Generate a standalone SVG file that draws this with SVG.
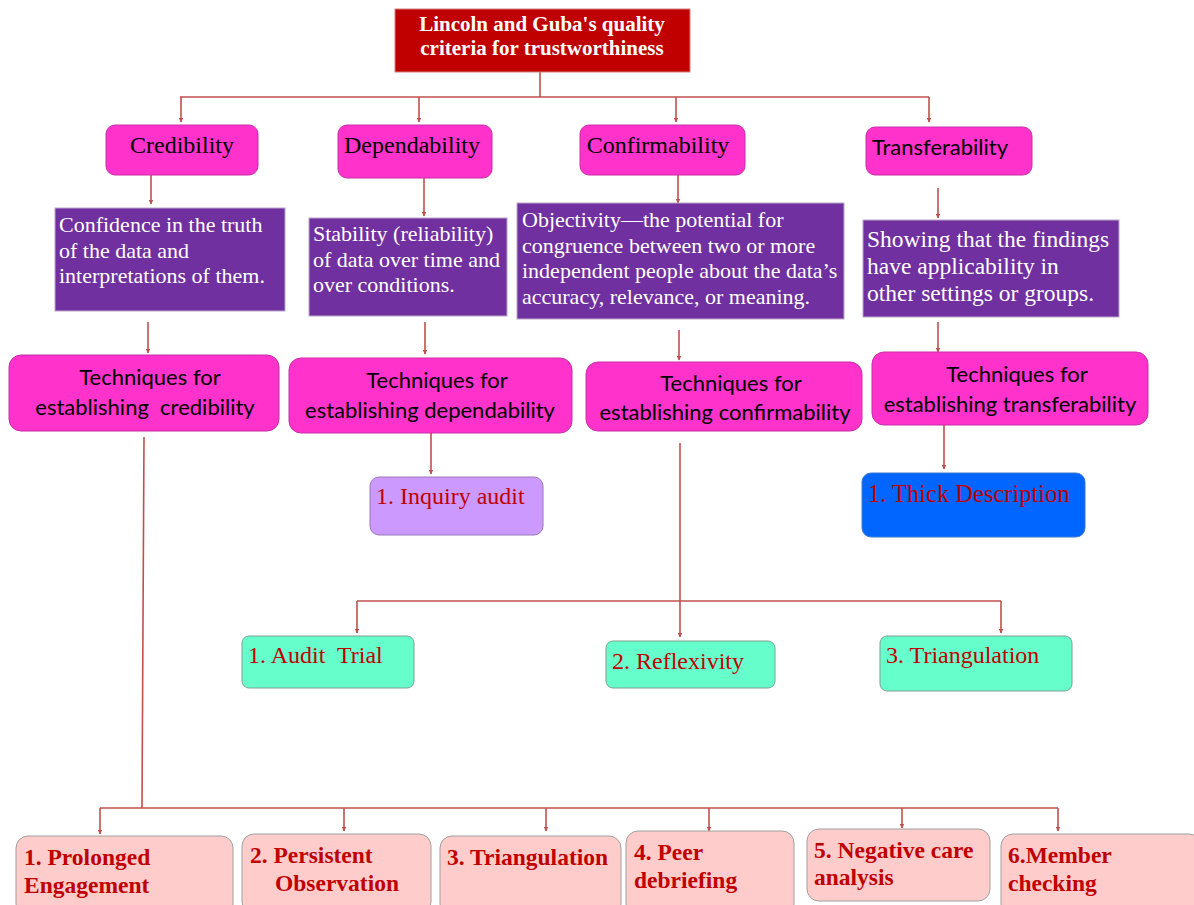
<svg xmlns="http://www.w3.org/2000/svg" width="1194" height="905" viewBox="0 0 1194 905">
<defs>
<marker id="arr" viewBox="0 0 10 10" refX="9" refY="5" markerWidth="5" markerHeight="5" orient="auto" markerUnits="userSpaceOnUse">
<path d="M0,0 L10,5 L0,10 z" fill="#c0504d"/>
</marker>
<style>
.ln{fill:none;stroke:#c0504d;stroke-width:1.6}
.ar{fill:none;stroke:#c0504d;stroke-width:1.6;marker-end:url(#arr)}
.pink{fill:#ff33cc;stroke:#c72fa6;stroke-width:1}
.purple{fill:#7030a0;stroke:#b9a6c9;stroke-width:1}
.green{fill:#66ffcc;stroke:#7f9f90;stroke-width:1}
.rose{fill:#ffcccc;stroke:#a0a0a0;stroke-width:1}
.serif{font-family:"Liberation Serif","Times New Roman",serif}
.sans{font-family:Lato,"Open Sans","Liberation Sans",sans-serif}
.hdr{font-size:24px;fill:#000}
.desc{font-size:22px;fill:#fff}
.tech{font-size:22px;fill:#000}
.red{fill:#c00000}
.bold{font-weight:bold}
</style>
</defs>
<rect width="1194" height="905" fill="#fff"/>

<g id="connectors">
<path class="ln" d="M540,72 V97 M180,97 H929"/>
<path class="ar" d="M181,97 V122"/>
<path class="ar" d="M419,97 V122"/>
<path class="ar" d="M676,97 V122"/>
<path class="ar" d="M929,97 V122"/>
<path class="ar" d="M151,175 V204"/>
<path class="ar" d="M424,178 V216"/>
<path class="ar" d="M678,175 V203"/>
<path class="ar" d="M938,188 V218"/>
<path class="ar" d="M148,322 V353"/>
<path class="ar" d="M425,322 V354"/>
<path class="ar" d="M679,330 V360"/>
<path class="ar" d="M938,322 V352"/>
<path class="ar" d="M431,433 V474"/>
<path class="ar" d="M944,425 V469"/>
<path class="ar" d="M680,443 V637"/>
<path class="ln" d="M357,601 H1001"/>
<path class="ar" d="M357,601 V633"/>
<path class="ar" d="M1001,601 V633"/>
<path class="ln" d="M144,437 L142,808 M100,808 H1058"/>
<path class="ar" d="M100,808 V834"/>
<path class="ar" d="M344,808 V831"/>
<path class="ar" d="M546,808 V831"/>
<path class="ar" d="M709,808 V831"/>
<path class="ar" d="M902,808 V828"/>
<path class="ar" d="M1058,808 V831"/>
</g>

<g id="title">
<rect x="395" y="9" width="295" height="63" fill="#c00000" stroke="#d08080" stroke-width="1"/>
<text class="serif bold" font-size="21" fill="#fff" text-anchor="middle"><tspan x="542" y="31">Lincoln and Guba's quality</tspan><tspan x="542" y="55">criteria for trustworthiness</tspan></text>
</g>

<g id="credibility">
<rect class="pink" x="106" y="125" width="152" height="50" rx="9"/>
<text class="serif hdr" x="182" y="153" text-anchor="middle">Credibility</text>
</g>
<g id="dependability">
<rect class="pink" x="338" y="125" width="154" height="53" rx="9"/>
<text class="serif hdr" x="412" y="153" text-anchor="middle">Dependability</text>
</g>
<g id="confirmability">
<rect class="pink" x="580" y="125" width="165" height="50" rx="9"/>
<text class="serif hdr" x="658" y="153" text-anchor="middle">Confirmability</text>
</g>
<g id="transferability">
<rect class="pink" x="866" y="127" width="166" height="48" rx="9"/>
<text class="sans" font-size="22" fill="#000" x="940" y="155" text-anchor="middle">Transferability</text>
</g>

<g id="cred-desc">
<rect class="purple" x="55" y="208" width="230" height="103"/>
<text class="serif desc"><tspan x="59" y="232">Confidence in the truth</tspan><tspan x="59" y="258">of the data and</tspan><tspan x="59" y="283">interpretations of them.</tspan></text>
</g>
<g id="dep-desc">
<rect class="purple" x="309" y="218" width="198" height="98"/>
<text class="serif desc"><tspan x="313" y="241">Stability (reliability)</tspan><tspan x="313" y="267">of data over time and</tspan><tspan x="313" y="292">over conditions.</tspan></text>
</g>
<g id="conf-desc">
<rect class="purple" x="517" y="203" width="327" height="116"/>
<text class="serif desc"><tspan x="522" y="227">Objectivity—the potential for</tspan><tspan x="522" y="253">congruence between two or more</tspan><tspan x="522" y="278">independent people about the data’s</tspan><tspan x="522" y="304">accuracy, relevance, or meaning.</tspan></text>
</g>
<g id="trans-desc">
<rect class="purple" x="863" y="220" width="256" height="97"/>
<text class="serif" font-size="23.5" fill="#fff"><tspan x="867" y="247">Showing that the findings</tspan><tspan x="867" y="274">have applicability in</tspan><tspan x="867" y="301">other settings or groups.</tspan></text>
</g>

<g id="cred-tech">
<rect class="pink" x="9" y="355" width="270" height="76" rx="12"/>
<text class="sans tech" text-anchor="middle"><tspan x="150" y="385">Techniques for</tspan><tspan x="145" y="415" xml:space="preserve">establishing  credibility</tspan></text>
</g>
<g id="dep-tech">
<rect class="pink" x="289" y="358" width="283" height="75" rx="12"/>
<text class="sans tech" text-anchor="middle"><tspan x="437" y="388">Techniques for</tspan><tspan x="430" y="418">establishing dependability</tspan></text>
</g>
<g id="conf-tech">
<rect class="pink" x="586" y="362" width="276" height="69" rx="12"/>
<text class="sans tech" text-anchor="middle"><tspan x="731" y="391">Techniques for</tspan><tspan x="725" y="420">establishing confirmability</tspan></text>
</g>
<g id="trans-tech">
<rect class="pink" x="872" y="352" width="276" height="73" rx="12"/>
<text class="sans tech" text-anchor="middle"><tspan x="1017" y="382">Techniques for</tspan><tspan x="1010" y="412">establishing transferability</tspan></text>
</g>

<g id="inquiry-audit">
<rect x="370" y="477" width="173" height="58" rx="9" fill="#cc99ff" stroke="#9a78b8" stroke-width="1"/>
<text class="serif red" font-size="24" x="376" y="504">1. Inquiry audit</text>
</g>
<g id="thick-description">
<rect x="862" y="473" width="223" height="64" rx="9" fill="#0066ff" stroke="#3a7ad0" stroke-width="1"/>
<text class="serif red" font-size="24.5" x="868" y="502">1. Thick Description</text>
</g>

<g id="audit-trial">
<rect class="green" x="242" y="636" width="172" height="52" rx="7"/>
<text class="serif red" font-size="24" x="248" y="663" xml:space="preserve">1. Audit  Trial</text>
</g>
<g id="reflexivity">
<rect class="green" x="606" y="641" width="169" height="47" rx="7"/>
<text class="serif red" font-size="24" x="612" y="669">2. Reflexivity</text>
</g>
<g id="triangulation-conf">
<rect class="green" x="880" y="636" width="192" height="55" rx="7"/>
<text class="serif red" font-size="24" x="886" y="663">3. Triangulation</text>
</g>

<g id="prolonged-engagement">
<rect class="rose" x="16" y="836" width="217" height="80" rx="12"/>
<text class="serif red bold" font-size="23.5"><tspan x="24" y="865">1. Prolonged</tspan><tspan x="24" y="893">Engagement</tspan></text>
</g>
<g id="persistent-observation">
<rect class="rose" x="242" y="834" width="189" height="80" rx="12"/>
<text class="serif red bold" font-size="23.5"><tspan x="250" y="863">2. Persistent</tspan><tspan x="275" y="891">Observation</tspan></text>
</g>
<g id="triangulation-cred">
<rect class="rose" x="440" y="836" width="181" height="80" rx="12"/>
<text class="serif red bold" font-size="23.5" x="447" y="865">3. Triangulation</text>
</g>
<g id="peer-debriefing">
<rect class="rose" x="626" y="831" width="168" height="85" rx="12"/>
<text class="serif red bold" font-size="23.5"><tspan x="634" y="860">4. Peer</tspan><tspan x="634" y="888">debriefing</tspan></text>
</g>
<g id="negative-care-analysis">
<rect class="rose" x="807" y="829" width="183" height="72" rx="12"/>
<text class="serif red bold" font-size="23.5"><tspan x="814" y="858">5. Negative care</tspan><tspan x="814" y="885">analysis</tspan></text>
</g>
<g id="member-checking">
<rect class="rose" x="1001" y="834" width="200" height="82" rx="12"/>
<text class="serif red bold" font-size="23.5"><tspan x="1008" y="863">6.Member</tspan><tspan x="1008" y="891">checking</tspan></text>
</g>
</svg>
